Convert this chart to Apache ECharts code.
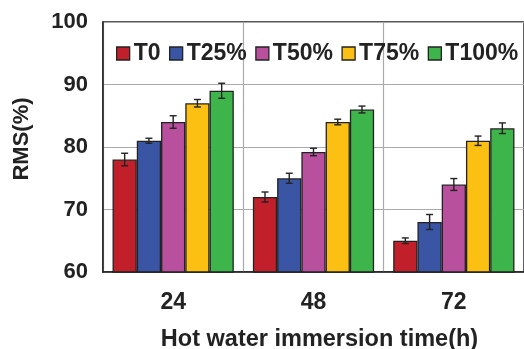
<!DOCTYPE html>
<html><head><meta charset="utf-8">
<script src="https://cdn.jsdelivr.net/npm/echarts@6/dist/echarts.min.js"></script>
<style>html,body{margin:0;padding:0;background:#fff}#c{width:524px;height:349px}</style>
</head><body><div id="c"></div>
<script>
const categories = ['24', '48', '72'];
const seriesNames = ['T0', 'T25%', 'T50%', 'T75%', 'T100%'];
const T0 = [78, 72, 65];
const T25 = [81, 75, 68];
const T50 = [84, 79.2, 74];
const T75 = [87, 84, 81];
const T100 = [89, 86, 83];
const errT0 = [1.0, 0.8, 0.45];
const errT25 = [0.4, 0.8, 1.2];
const errT50 = [1.0, 0.6, 0.95];
const errT75 = [0.6, 0.45, 0.75];
const errT100 = [1.2, 0.55, 0.85];
const yTicks = [60, 70, 80, 90, 100];

const colors = ['#C1202A', '#3A55A4', '#B8509E', '#FBC011', '#3EB54A'];
const values = [T0, T25, T50, T75, T100];
const errs = [errT0, errT25, errT50, errT75, errT100];
const GAP = 0.136;
const font = 'Liberation Sans, Arial, sans-serif';

const errData = [];
values.forEach((v, s) => v.forEach((y, c) => errData.push([c, s, y, errs[s][c]])));

const chart = echarts.init(document.getElementById('c'));
const barSeries = seriesNames.map((n, i) => ({
  name: n, type: 'bar', data: values[i],
  barGap: '0%', barCategoryGap: (GAP * 100) + '%',
  itemStyle: { color: colors[i], borderColor: '#222', borderWidth: 1.3 },
  z: 2
}));
chart.setOption({
  animation: false,
  color: colors,
  grid: { left: 103, right: 0, top: 22, bottom: 77, outerBoundsMode: 'none', containLabel: false,
    show: true, borderColor: '#222', borderWidth: 1.5, backgroundColor: 'transparent' },
  legend: {
    data: seriesNames, top: 37, left: 111,
    itemWidth: 13, itemHeight: 13, itemGap: 8.5,
    icon: 'rect',
    itemStyle: { borderColor: '#222', borderWidth: 1.3 },
    textStyle: { fontFamily: font, fontWeight: 'bold', fontSize: 23, color: '#222', padding: [0, 0, 0, -1] }
  },
  xAxis: {
    type: 'category', data: categories,
    name: 'Hot water immersion time(h)', nameLocation: 'middle', nameGap: 56,
    nameTextStyle: { fontFamily: font, fontWeight: 'bold', fontSize: 23.5, color: '#222', padding: [0, 0, 0, 12] },
    axisLine: { lineStyle: { color: '#222', width: 1.5 } },
    axisTick: { show: false },
    axisLabel: { fontFamily: font, fontWeight: 'bold', fontSize: 23, color: '#222', margin: 19 },
    splitLine: { show: true, lineStyle: { color: '#aaa', width: 1.2 } }
  },
  yAxis: {
    type: 'value', min: 60, max: 100, interval: 10,
    name: 'RMS(%)', nameLocation: 'middle', nameGap: 70, nameRotate: 90,
    nameTextStyle: { fontFamily: font, fontWeight: 'bold', fontSize: 22, color: '#222', padding: [0, 0, 0, 16] },
    axisLine: { show: true, lineStyle: { color: '#222', width: 1.5 } },
    axisTick: { show: false },
    axisLabel: { fontFamily: font, fontWeight: 'bold', fontSize: 22, color: '#222', margin: 15,
      formatter: v => yTicks.includes(v) ? String(v) : '' },
    splitLine: { show: true, lineStyle: { color: '#aaa', width: 1.2 } }
  },
  series: barSeries.concat([{
    type: 'custom', data: errData, z: 5,
    encode: { x: 0, y: 2 },
    renderItem: (params, api) => {
      const c = api.value(0), s = api.value(1), y = api.value(2), e = api.value(3);
      const catW = api.size([1, 0])[0];
      const bw = catW * (1 - GAP) / 5;
      const center = api.coord([c, y])[0];
      const x = center + (s - 2) * bw;
      const yTop = api.coord([c, y + e])[1];
      const yBot = api.coord([c, y - e])[1];
      const cap = 3.5;
      const st = { stroke: '#222', lineWidth: 1.4 };
      return { type: 'group', children: [
        { type: 'line', shape: { x1: x, y1: yTop, x2: x, y2: yBot }, style: st },
        { type: 'line', shape: { x1: x - cap, y1: yTop, x2: x + cap, y2: yTop }, style: st },
        { type: 'line', shape: { x1: x - cap, y1: yBot, x2: x + cap, y2: yBot }, style: st }
      ]};
    }
  }])
});
</script></body></html>
